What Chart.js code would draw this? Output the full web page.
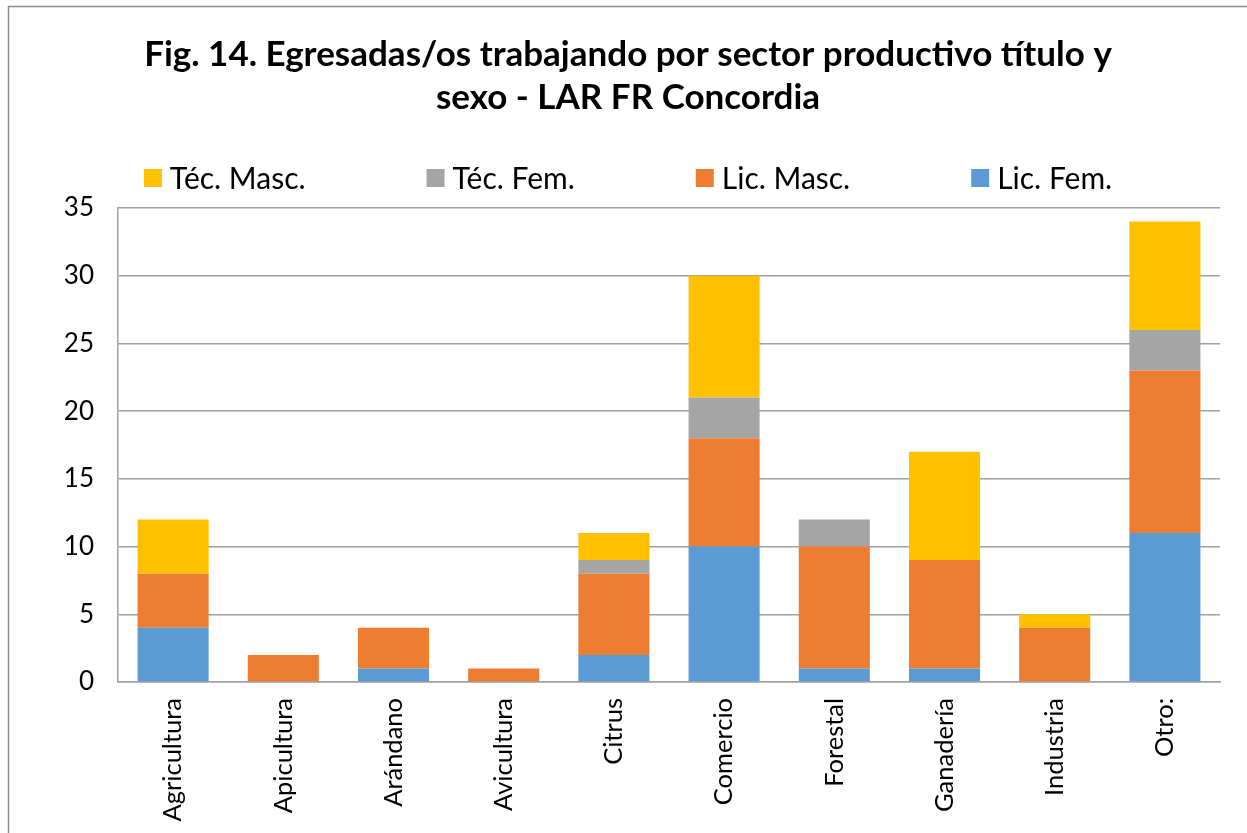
<!DOCTYPE html>
<html>
<head>
<meta charset="utf-8">
<script src="https://cdn.jsdelivr.net/npm/chart.js@4/dist/chart.umd.min.js"></script>
<style>
  html, body { margin: 0; padding: 0; background: #fff; }
  #wrap { position: relative; width: 1247px; height: 833px; }
</style>
</head>
<body>
<div id="wrap"><canvas id="c" width="1247" height="833"></canvas></div>
<script>
// ---- Data ----
const categories = ["Agricultura", "Apicultura", "Arándano", "Avicultura", "Citrus", "Comercio", "Forestal", "Ganadería", "Industria", "Otro:"];
const licFem  = [4, 0, 1, 0, 2, 10, 1, 1, 0, 11];
const licMasc = [4, 2, 3, 1, 6, 8, 9, 8, 4, 12];
const tecFem  = [0, 0, 0, 0, 1, 3, 2, 0, 0, 3];
const tecMasc = [4, 0, 0, 0, 2, 9, 0, 8, 1, 8];
const yTicks  = [0, 5, 10, 15, 20, 25, 30, 35];
const chartTitle = ["Fig. 14. Egresadas/os trabajando por sector productivo título y", "sexo - LAR FR Concordia"];

const FONT = "Lato, 'Noto Sans', sans-serif";
const GRID = "#a0a0a0";

const framePlugin = {
  id: 'frame',
  beforeDraw(chart) {
    const ctx = chart.ctx;
    ctx.save();
    ctx.fillStyle = '#fff';
    ctx.fillRect(0, 0, chart.width, chart.height);
    ctx.strokeStyle = '#8c8c8c';
    ctx.lineWidth = 1.5;
    ctx.beginPath();
    ctx.moveTo(8.5, chart.height);
    ctx.lineTo(8.5, 6.5);
    ctx.lineTo(chart.width, 6.5);
    ctx.stroke();
    ctx.restore();
  }
};

const legendPlugin = {
  id: 'rowLegend',
  afterDraw(chart, args, opts) {
    const ctx = chart.ctx;
    const items = chart.data.datasets.map(d => ({ text: d.label, color: d.backgroundColor })).reverse();
    ctx.save();
    ctx.font = opts.size + 'px ' + FONT;
    ctx.textBaseline = 'middle';
    ctx.textAlign = 'left';
    const widths = items.map(it => opts.box + opts.boxGap + ctx.measureText(it.text).width);
    const total = widths.reduce((a, b) => a + b, 0) + opts.gap * (items.length - 1);
    const tb = chart.titleBlock;
    const cx = tb ? (tb.left + tb.right) / 2 : chart.width / 2;
    let x = cx - total / 2;
    const y = chart.chartArea.top - opts.offset;
    items.forEach((it, i) => {
      ctx.fillStyle = it.color;
      ctx.fillRect(x, y - opts.box / 2, opts.box, opts.box);
      ctx.fillStyle = '#000';
      ctx.fillText(it.text, x + opts.box + opts.boxGap, y + 1);
      x += widths[i] + opts.gap;
    });
    ctx.restore();
  }
};

new Chart(document.getElementById('c'), {
  type: 'bar',
  data: {
    labels: categories,
    datasets: [
      { label: 'Lic. Fem.',  data: licFem,  backgroundColor: '#5B9BD5' },
      { label: 'Lic. Masc.', data: licMasc, backgroundColor: '#ED7D31' },
      { label: 'Téc. Fem.',  data: tecFem,  backgroundColor: '#A5A5A5' },
      { label: 'Téc. Masc.', data: tecMasc, backgroundColor: '#FFC000' }
    ]
  },
  options: {
    responsive: false,
    animation: false,
    layout: { padding: { left: 36, right: 27, top: 0, bottom: 0 } },
    datasets: { bar: { barPercentage: 0.645, categoryPercentage: 1.0, borderWidth: 0 } },
    plugins: {
      legend: { display: false },
      tooltip: { enabled: false },
      title: {
        display: true,
        text: chartTitle,
        color: '#000',
        font: { family: FONT, size: 35, weight: 'bold', lineHeight: 1.23 },
        padding: { top: 33.5, bottom: 88.4 }
      },
      rowLegend: { size: 30, box: 18, boxGap: 8, gap: 121, offset: 30 }
    },
    scales: {
      x: {
        stacked: true,
        grid: { display: false, drawTicks: false },
        border: { display: true, color: GRID, width: 1.5 },
        ticks: {
          color: '#000',
          font: { family: FONT, size: 25.5 },
          maxRotation: 90, minRotation: 90,
          padding: 16,
          autoSkip: false
        },
        afterFit(scale) { scale.height = 151; }
      },
      y: {
        stacked: true,
        min: 0, max: 35,
        afterBuildTicks(scale) { scale.ticks = yTicks.map(v => ({ value: v })); },
        grid: { color: GRID, lineWidth: 1.5, drawTicks: false },
        border: { display: true, color: GRID, width: 1.5 },
        ticks: {
          color: '#000',
          font: { family: FONT, size: 26 },
          padding: 24
        },
        afterFit(scale) { scale.width = 82; }
      }
    }
  },
  plugins: [framePlugin, legendPlugin]
});
</script>
</body>
</html>
